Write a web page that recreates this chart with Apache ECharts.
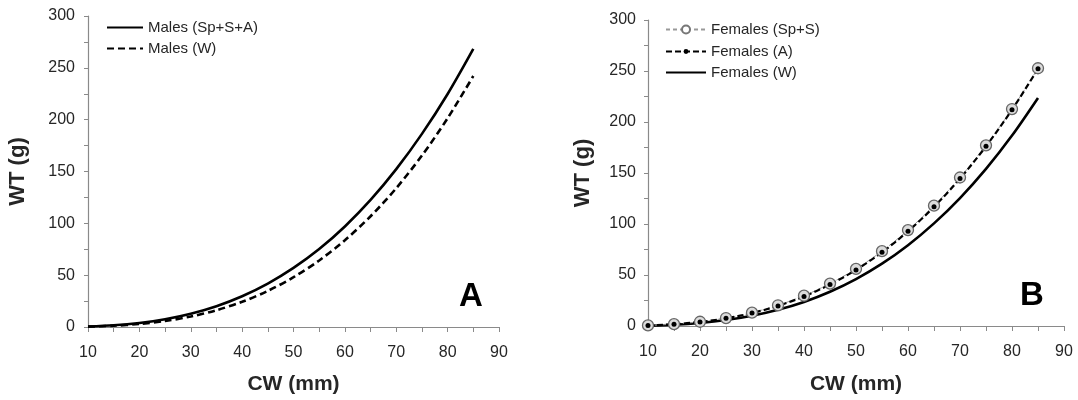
<!DOCTYPE html>
<html><head><meta charset="utf-8">
<script src="https://cdn.jsdelivr.net/npm/echarts@6/dist/echarts.min.js"></script>
<style>html,body{margin:0;padding:0;background:#fff}#c{width:1078px;height:400px}</style>
</head><body><div id="c"></div>
<script>
const cw = [10,15,20,25,30,35,40,45,50,55,60,65,70,75,80,85];
const xTicks = [10,20,30,40,50,60,70,80,90];
const yTicks = [0,50,100,150,200,250,300];
const malesSpSA = [0.52,1.69,3.93,7.5,12.8,20.1,29.7,41.9,57,75.2,97.0,122.6,152.3,186.3,224.8,268.3];
const malesW = [0.35,1.22,2.94,5.8,10.1,16.2,24.3,34.8,48,64.2,83.7,106.8,133.9,165.4,201.4,242.1];
const femalesSpS = [0.58,1.83,4.16,7.8,13.1,20.3,29.7,41.6,56,73.4,94.0,118.0,145.6,177.1,212.7,252.7];
const femalesA = [0.54,1.74,3.97,7.5,12.7,19.7,29.0,40.7,55,72.3,92.8,116.8,144.5,176.2,212.0,252.2];
const femalesW = [0.38,1.27,3.0,5.8,10.0,15.9,23.6,33.6,46,61.1,79.2,100.6,125.4,154.0,186.7,223.6];

const pairs = arr => cw.map((x,i)=>[x,arr[i]]);
const FONT = 'Liberation Sans, Arial, sans-serif';
const axisCol = '#8a8a8a';
const txtCol = '#262626';

function xAxis(gi,gap){
  return {type:'value', gridIndex:gi, min:xTicks[0], max:xTicks[xTicks.length-1], interval:10,
    name:'CW (mm)', nameLocation:'middle', nameGap:gap,
    nameTextStyle:{fontFamily:FONT,fontWeight:'bold',fontSize:21,color:txtCol},
    axisLine:{lineStyle:{color:axisCol,width:1.2}},
    axisTick:{show:true,length:5,lineStyle:{color:axisCol}},
    minorTick:{show:true,splitNumber:2,length:5,lineStyle:{color:axisCol}},
    axisLabel:{fontFamily:FONT,fontSize:16,color:txtCol,margin:18},
    splitLine:{show:false}};
}
function yAxis(gi,gap,m){
  return {type:'value', gridIndex:gi, min:yTicks[0], max:yTicks[yTicks.length-1], interval:50,
    name:'WT (g)', nameLocation:'middle', nameGap:gap, nameRotate:90,
    nameTextStyle:{fontFamily:FONT,fontWeight:'bold',fontSize:22,color:txtCol},
    axisLine:{show:true,lineStyle:{color:axisCol,width:1.2}},
    axisTick:{show:true,length:4,lineStyle:{color:axisCol}},
    minorTick:{show:true,splitNumber:2,length:4,lineStyle:{color:axisCol}},
    axisLabel:{fontFamily:FONT,fontSize:16,color:txtCol,margin:m},
    splitLine:{show:false}};
}
const hideSym = {opacity:0};
function leg(item,left,top,w,h){
  return {orient:'vertical', left:left, top:top, itemWidth:w, itemHeight:h, itemGap:0,
    textStyle:{fontFamily:FONT,fontSize:15,color:txtCol},
    data:[item]};
}

const chart = echarts.init(document.getElementById('c'), null, {renderer:'canvas'});
chart.setOption({
  animation:false,
  backgroundColor:'#fff',
  grid:[
    {left:88, right:579, top:16, bottom:73},
    {left:648, right:14, top:20, bottom:71}
  ],
  xAxis:[xAxis(0,47), xAxis(1,48)],
  yAxis:[yAxis(0,59,13), yAxis(1,54,12)],
  legend:[
    leg({name:'Males (Sp+S+A)', itemStyle:hideSym},101,15,36,12),
    leg({name:'Males (W)', itemStyle:hideSym},101,36,36,12),
    leg({name:'Females (Sp+S)', itemStyle:{color:'#fff',borderColor:'#777'}},660,17,40,10),
    leg('Females (A)',660,39,40,6),
    leg({name:'Females (W)', itemStyle:hideSym},660,60,40,12)
  ],
  graphic:[
    {type:'text', left:459, top:280, style:{text:'A', font:'bold 33px '+FONT, fill:'#000'}},
    {type:'text', left:1020, top:279, style:{text:'B', font:'bold 33px '+FONT, fill:'#000'}}
  ],
  series:[
    {name:'Males (Sp+S+A)', type:'line', xAxisIndex:0, yAxisIndex:0, data:pairs(malesSpSA),
      smooth:0.3, symbol:'none', lineStyle:{color:'#000',width:2.6}, itemStyle:{color:'#000'}},
    {name:'Males (W)', type:'line', xAxisIndex:0, yAxisIndex:0, data:pairs(malesW),
      smooth:0.3, symbol:'none', lineStyle:{color:'#000',width:2.6,type:[7,4]}, itemStyle:{color:'#000'}},
    {name:'Females (W)', type:'line', xAxisIndex:1, yAxisIndex:1, data:pairs(femalesW),
      smooth:0.3, symbol:'none', lineStyle:{color:'#000',width:2.6}, itemStyle:{color:'#000'}},
    {name:'Females (Sp+S)', type:'line', xAxisIndex:1, yAxisIndex:1, data:pairs(femalesSpS),
      smooth:0.3, symbol:'circle', symbolSize:11, showAllSymbol:true,
      lineStyle:{color:'#999',width:1,type:[4,3]},
      itemStyle:{color:'#dcdcdc',borderColor:'#666',borderWidth:1.3}},
    {name:'Females (A)', type:'line', xAxisIndex:1, yAxisIndex:1, data:pairs(femalesA),
      smooth:0.3, symbol:'circle', symbolSize:5, showAllSymbol:true,
      lineStyle:{color:'#000',width:2.2,type:[6,3]},
      itemStyle:{color:'#000',borderWidth:0}}
  ]
});
</script></body></html>
